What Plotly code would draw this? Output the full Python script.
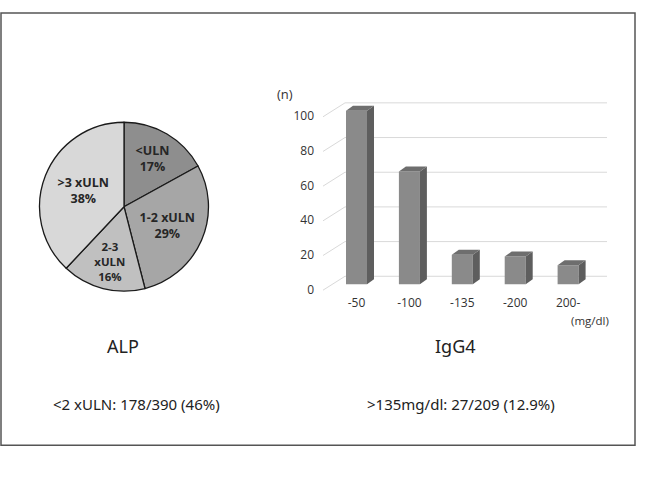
import plotly.graph_objects as go

# ---------------- data ----------------
pie_labels = ["&lt;ULN", "1-2 xULN", "2-3<br>xULN", "&gt;3 xULN"]
pie_values = [17, 29, 16, 38]
pie_colors = ["#8e8e8e", "#a6a6a6", "#c0c0c0", "#d8d8d8"]

bar_categories = ["-50", "-100", "-135", "-200", "200-"]
bar_values = [100, 65, 17, 16, 11]
y_ticks = [0, 20, 40, 60, 80, 100]

W, H = 648, 483

def px(x):
    return x / W

def py(y):
    return (H - y) / H

# bar axis geometry (value units)
PX_PER_UNIT_Y = 1.745
PX_PER_CAT = 52.9
X0_PX = 356.5       # centre of first bar
BASE_PX = 286       # bar base pixel
dom_x = (315, 615)
dom_y = (80, 296)
x_range = [(dom_x[0] - X0_PX) / PX_PER_CAT, (dom_x[1] - X0_PX) / PX_PER_CAT]
y_range = [(BASE_PX - dom_y[1]) / PX_PER_UNIT_Y, (BASE_PX - dom_y[0]) / PX_PER_UNIT_Y]

bar_w = 21 / PX_PER_CAT
dx = 7 / PX_PER_CAT
dy = 5 / PX_PER_UNIT_Y
back_off = 8 / PX_PER_UNIT_Y
front_off = -6 / PX_PER_UNIT_Y
diag_x0 = (323 - X0_PX) / PX_PER_CAT
diag_x1 = (345 - X0_PX) / PX_PER_CAT
grid_x_end = (607 - X0_PX) / PX_PER_CAT

fig = go.Figure()

# pie
fig.add_trace(go.Pie(
    labels=pie_labels, values=pie_values, sort=False, direction="clockwise",
    rotation=0, marker=dict(colors=pie_colors, line=dict(color="#1a1a1a", width=1.3)),
    text=[f"{l}<br>{v}%" for l, v in zip(pie_labels, pie_values)],
    textinfo="text", textposition="inside", insidetextorientation="horizontal",
    textfont=dict(family="Open Sans", size=12.5, color="#262626", weight="bold"),
    domain=dict(x=[px(39), px(209)], y=[py(293), py(123)]),
    showlegend=False, hoverinfo="skip",
))

# gridlines (3D back wall with diagonal floor-side) as shapes below traces
shapes = []
for t in y_ticks:
    shapes.append(dict(type="line", xref="x", yref="y", layer="below",
                       x0=diag_x0, y0=t + front_off, x1=diag_x1, y1=t + back_off,
                       line=dict(color="#d9d9d9", width=1)))
    shapes.append(dict(type="line", xref="x", yref="y", layer="below",
                       x0=diag_x1, y0=t + back_off, x1=grid_x_end, y1=t + back_off,
                       line=dict(color="#d9d9d9", width=1)))

# bar fronts
xs = list(range(len(bar_values)))
fig.add_trace(go.Bar(
    x=xs, y=bar_values, width=bar_w, marker=dict(color="#8a8a8a", line=dict(width=0)),
    showlegend=False, hoverinfo="skip",
))

# bar sides and tops
for i, v in zip(xs, bar_values):
    r = i + bar_w / 2
    l = i - bar_w / 2
    fig.add_trace(go.Scatter(
        x=[r, r + dx, r + dx, r, r], y=[0, dy, v + dy, v, 0],
        fill="toself", fillcolor="#5e5e5e", mode="lines", line=dict(width=0, color="#5e5e5e"),
        showlegend=False, hoverinfo="skip",
    ))
    fig.add_trace(go.Scatter(
        x=[l, l + dx, r + dx, r, l], y=[v, v + dy, v + dy, v, v],
        fill="toself", fillcolor="#6e6e6e", mode="lines", line=dict(width=0, color="#6e6e6e"),
        showlegend=False, hoverinfo="skip",
    ))

# dummy trace for label axis
lab_shift = 3.0
fig.add_trace(go.Scatter(x=[0], y=[0], yaxis="y2", mode="markers",
                         marker=dict(opacity=0), showlegend=False, hoverinfo="skip"))

shapes.append(dict(type="rect", xref="paper", yref="paper",
                   x0=px(1), x1=px(635), y0=py(448), y1=py(13),
                   line=dict(color="#555555", width=1.5)))


def ann(text, x, y, size, family="Open Sans", color="#333333"):
    return dict(text=text, x=px(x), y=py(y), xref="paper", yref="paper",
                xanchor="center", yanchor="middle", showarrow=False,
                font=dict(family=family, size=size, color=color))


fig.update_layout(
    width=W, height=H, margin=dict(l=0, r=0, t=0, b=0),
    paper_bgcolor="white", plot_bgcolor="rgba(0,0,0,0)",
    font=dict(family="Open Sans", color="#333333"),
    xaxis=dict(domain=[px(dom_x[0]), px(dom_x[1])], range=x_range,
               tickmode="array", tickvals=xs, ticktext=bar_categories,
               showgrid=False, zeroline=False, showline=False, ticks="",
               tickfont=dict(size=12, color="#333333")),
    yaxis=dict(domain=[py(dom_y[1]), py(dom_y[0])], range=y_range,
               showgrid=False, zeroline=False, showline=False, showticklabels=False),
    yaxis2=dict(domain=[py(dom_y[1]), py(dom_y[0])], overlaying="y", anchor="x",
                range=[y_range[0] + lab_shift, y_range[1] + lab_shift],
                tickmode="array", tickvals=y_ticks, showgrid=False, zeroline=False,
                showline=False, ticks="", tickfont=dict(size=12, color="#333333")),
    shapes=shapes,
    annotations=[
        ann("(n)", 285, 95, 13),
        ann("(mg/dl)", 590, 322, 11.5),
        ann("ALP", 123, 348, 18, "Noto Sans", "#222222"),
        ann("IgG4", 455, 348, 18, "Noto Sans", "#222222"),
        ann("&lt;2 xULN: 178/390 (46%)", 136, 407, 15, "Noto Sans", "#222222"),
        ann("&gt;135mg/dl: 27/209 (12.9%)", 461, 407, 15, "Noto Sans", "#222222"),
    ],
)

fig.write_html("out.html")
